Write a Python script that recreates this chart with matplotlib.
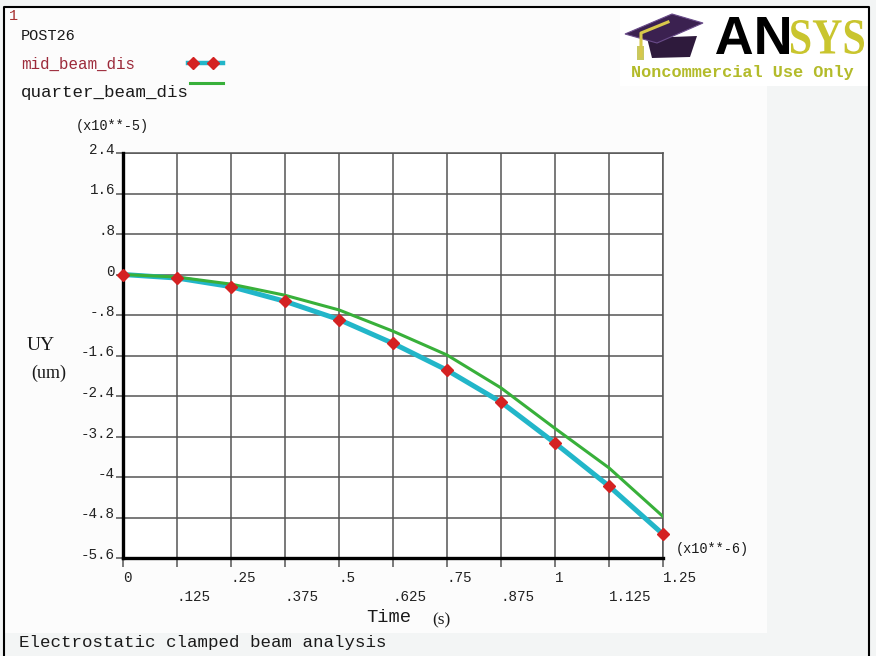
import matplotlib
matplotlib.use('Agg')
import matplotlib.pyplot as plt
from matplotlib.transforms import Affine2D, offset_copy
from matplotlib.textpath import TextPath
from matplotlib.font_manager import FontProperties
from matplotlib.patches import PathPatch, Polygon, Rectangle
from matplotlib.lines import Line2D

# data (UY in units of 1e-5, time in units of 1e-6 s)
time = [0, .125, .25, .375, .5, .625, .75, .875, 1.0, 1.125, 1.25]
mid_beam_dis = [0, -0.07, -0.24, -0.53, -0.89, -1.36, -1.89, -2.52, -3.33, -4.18, -5.13]
quarter_beam_dis = [0, -0.05, -0.19, -0.41, -0.70, -1.12, -1.59, -2.24, -3.04, -3.82, -4.78]

yticks = [2.4, 1.6, .8, 0, -.8, -1.6, -2.4, -3.2, -4, -4.8, -5.6]
ylabels = ['2.4', '1.6', '.8', '0', '-.8', '-1.6', '-2.4', '-3.2', '-4', '-4.8', '-5.6']
xticks = [0, .125, .25, .375, .5, .625, .75, .875, 1.0, 1.125, 1.25]
xlabels = ['0', '.125', '.25', '.375', '.5', '.625', '.75', '.875', '1', '1.125', '1.25']

W, H = 876, 656
CYAN = '#22b6c9'
GREEN = '#38b03a'
RED = '#d42222'
MONO = 'Liberation Mono'
SERIF = 'Liberation Serif'

fig = plt.figure(figsize=(W / 100, H / 100), dpi=100)
fig.patch.set_facecolor('#f3f5f5')
T = Affine2D().scale(1, -1).translate(0, H)   # pixel coords, origin top-left

# white windows (behind the axes)
fig.add_artist(Rectangle((5, 8), 762, 625, fc='#fcfcfc', ec='none', transform=T, zorder=-2))
fig.add_artist(Rectangle((620, 8), 248, 78, fc='white', ec='none', transform=T, zorder=-2))
# frame
fig.add_artist(Line2D([4, 4, 869, 869], [656, 7, 7, 656], color='black', lw=1.5, transform=T))

ax = fig.add_axes([123 / W, 1 - 558 / H, 540 / W, 405 / H])
ax.set_xlim(0, 1.25)
ax.set_ylim(-5.6, 2.4)
ax.set_xticks(xticks)
ax.set_yticks(yticks)
ax.set_xticklabels([])
ax.set_yticklabels([])
ax.grid(True, color='#555555', lw=1.1)
ax.tick_params(axis='x', direction='out', length=6.5, width=1.1, color='#555555')
ax.tick_params(axis='y', direction='out', length=5, width=1.1, color='#555555')
for s in ['left', 'bottom']:
    ax.spines[s].set_linewidth(2.4)
    ax.spines[s].set_color('black')
    ax.spines[s].set_zorder(5)
for s in ['top', 'right']:
    ax.spines[s].set_linewidth(1.1)
    ax.spines[s].set_color('#555555')

ax.plot(time, mid_beam_dis, color=CYAN, lw=3.6, solid_capstyle='round', zorder=3)
ax.plot(time, quarter_beam_dis, color=GREEN, lw=2.2, zorder=4)
ax.plot(time, mid_beam_dis, ls='none', marker='D', ms=6.5, color=RED, zorder=6, clip_on=False)

# tick labels ANSYS style
ytr = offset_copy(ax.get_yaxis_transform(), fig, x=-8, y=3, units='dots')
for v, lab in zip(yticks, ylabels):
    ax.text(0, v, lab, transform=ytr, ha='right', va='center', family=MONO, fontsize=10.3, color='#222222')
xtr = ax.get_xaxis_transform()
for i, (v, lab) in enumerate(zip(xticks, xlabels)):
    yy = -0.0486 if i % 2 == 0 else -0.097
    ax.text(v, yy, lab, transform=xtr, ha='left', va='center', family=MONO, fontsize=10.3, color='#222222')

def ptext(x, y, s, **kw):
    kw.setdefault('family', MONO)
    kw.setdefault('color', '#1a1a1a')
    fig.text(x, y, s, transform=T, ha='left', va='center', **kw)

ptext(76, 126, '(x10**-5)', fontsize=9.8)
ptext(676, 549, '(x10**-6)', fontsize=9.8)
ptext(366, 618, 'Time', fontsize=13.5)
ptext(432, 620, '(s)', family=SERIF, fontsize=12.5)
ptext(27, 345, 'UY', family=SERIF, fontsize=14)
ptext(31, 373, '(um)', family=SERIF, fontsize=13)
ptext(19, 642, 'Electrostatic clamped beam analysis', fontsize=12.6)

# header / legend
ptext(9, 16, '1', fontsize=11, color='#a83232')
ptext(21, 36, 'POST26', fontsize=11)
ptext(21, 64, 'mid_beam_dis', fontsize=11.4, color='#9c2a3a')
ptext(21, 93, 'quarter_beam_dis', fontsize=12.6)
fig.add_artist(Line2D([188, 223], [63, 63], color=CYAN, lw=3.2, transform=T))
fig.add_artist(Line2D([193, 213], [63, 63], ls='none', marker='D', ms=6.5, color=RED, transform=T))
fig.add_artist(Line2D([190, 223], [83, 83], color=GREEN, lw=2.2, transform=T))

# ANSYS logo
def boxed_text(s, box, color, prop):
    tp = TextPath((0, 0), s, size=1, prop=prop)
    bb = tp.get_extents()
    x0, y0, x1, y1 = box
    tr = (Affine2D().translate(-bb.x0, -bb.y0)
          .scale((x1 - x0) / bb.width, (y1 - y0) / bb.height)
          .translate(x0, H - y1))
    fig.add_artist(PathPatch(tr.transform_path(tp), fc=color, ec='none',
                             transform=Affine2D()))

boxed_text('AN', (716, 17, 789, 54), 'black', FontProperties(family='Liberation Sans', weight='bold'))
boxed_text('SYS', (791, 20, 864, 54), '#c9c52e', FontProperties(family=SERIF, weight='bold'))
ptext(631, 73, 'Noncommercial Use Only', fontsize=12.2, weight='bold', color='#b3bb2a')

fig.add_artist(Polygon([(647, 38), (697, 36), (690, 57), (652, 58)], closed=True,
                       fc='#2e1a3c', ec='none', transform=T))
fig.add_artist(Polygon([(625, 34), (672, 14), (703, 23), (657, 43)], closed=True,
                       fc='#3b2150', ec='#6a4c8a', lw=0.8, transform=T))
fig.add_artist(Line2D([668, 641, 641], [22, 33, 56], color='#d8c84a', lw=2.2, transform=T))
fig.add_artist(Rectangle((637, 46), 7, 14, fc='#c8c860', ec='none', transform=T))

fig.savefig('out.png', dpi=100, facecolor=fig.get_facecolor())
